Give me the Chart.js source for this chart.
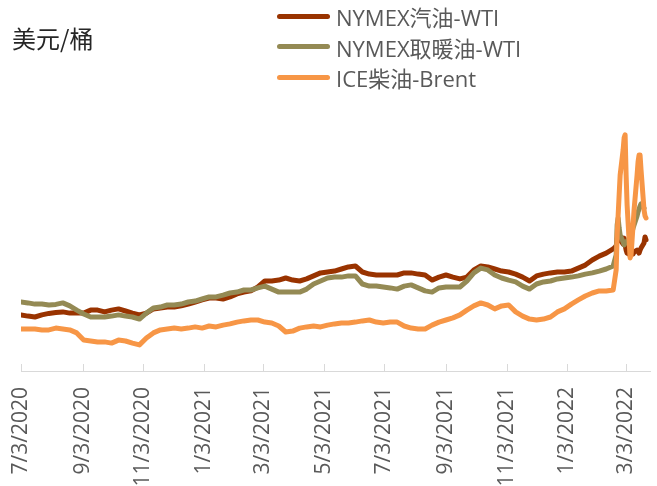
<!DOCTYPE html>
<html>
<head>
<meta charset="utf-8">
<script src="https://cdn.jsdelivr.net/npm/chart.js@4/dist/chart.umd.min.js"></script>
<style>
html,body{margin:0;padding:0;background:#fff;}
#wrap{position:relative;width:657px;height:486px;overflow:hidden;background:#fff;}
#c{position:absolute;left:0;top:0;}
#unit{position:absolute;left:12px;top:24px;font-family:"Noto Sans CJK SC",sans-serif;font-size:24px;line-height:28px;color:#262626;}
#legend{position:absolute;left:277px;top:1px;}
.item{display:flex;align-items:center;height:30.5px;font-family:"Open Sans","Noto Sans CJK SC",sans-serif;font-size:22px;color:#595959;white-space:nowrap;}
.sw{width:53px;height:5px;border-radius:3px;margin-right:6px;flex:none;}
</style>
</head>
<body>
<div id="wrap">
  <canvas id="c" width="657" height="486"></canvas>
  <div id="unit">美元/桶</div>
  <div id="legend"></div>
</div>
<script>
// ---- data (crack spreads, USD/bbl) ----
const dates = [
 '2020-07-03','2020-07-10','2020-07-17','2020-07-24','2020-07-31','2020-08-07','2020-08-14','2020-08-21','2020-08-28',
 '2020-09-04','2020-09-11','2020-09-18','2020-09-25','2020-10-02','2020-10-09','2020-10-16','2020-10-23','2020-10-30',
 '2020-11-06','2020-11-13','2020-11-20','2020-11-27','2020-12-04','2020-12-11','2020-12-18','2020-12-25',
 '2021-01-01','2021-01-08','2021-01-15','2021-01-22','2021-01-29','2021-02-05','2021-02-12','2021-02-19','2021-02-26',
 '2021-03-05','2021-03-12','2021-03-19','2021-03-26','2021-04-02','2021-04-09','2021-04-16','2021-04-23','2021-04-30',
 '2021-05-07','2021-05-14','2021-05-21','2021-05-28','2021-06-04','2021-06-11','2021-06-18','2021-06-25',
 '2021-07-02','2021-07-09','2021-07-16','2021-07-23','2021-07-30','2021-08-06','2021-08-13','2021-08-20','2021-08-27',
 '2021-09-03','2021-09-10','2021-09-17','2021-09-24','2021-10-01','2021-10-08','2021-10-15','2021-10-22','2021-10-29',
 '2021-11-05','2021-11-12','2021-11-19','2021-11-26','2021-12-03','2021-12-10','2021-12-17','2021-12-24','2021-12-31',
 '2022-01-07','2022-01-14','2022-01-21','2022-01-28','2022-02-04','2022-02-11','2022-02-18',
 '2022-02-21','2022-02-22','2022-02-23','2022-02-24','2022-02-25','2022-02-28','2022-03-01','2022-03-02','2022-03-03',
 '2022-03-04','2022-03-07','2022-03-08','2022-03-09','2022-03-10','2022-03-11','2022-03-14','2022-03-15','2022-03-16',
 '2022-03-17','2022-03-18','2022-03-21','2022-03-22','2022-03-23'
];
const gasolineWTI = [
 9.7,9.3,9.0,9.7,10.2,10.5,10.7,10.3,10.3,
 10.3,11.3,11.3,10.7,11.3,11.7,11.0,10.3,9.7,
 10.3,11.7,12.0,12.3,12.3,12.7,13.3,14.0,
 14.7,15.3,15.3,15.0,15.7,16.7,17.3,17.7,19.0,
 21.0,21.0,21.3,22.0,21.3,21.0,21.7,22.7,23.7,
 24.0,24.3,25.0,25.7,26.0,24.0,23.3,23.0,
 23.0,23.0,23.0,23.7,23.7,23.3,23.0,21.3,22.3,
 23.0,22.3,21.7,22.3,24.7,26.0,25.7,25.0,24.3,
 24.0,23.3,22.3,21.0,22.7,23.3,23.7,24.0,24.0,
 24.3,25.3,26.3,28.0,29.3,30.3,31.7,
 32.7,34.7,37.3,36.0,34.7,33.3,35.3,33.0,31.3,
 30.3,29.7,31.3,30.7,30.0,30.7,31.3,31.0,30.3,
 31.3,32.0,33.7,35.7,34.7
];
const heatingOilWTI = [
 14.0,13.7,13.3,13.3,13.0,13.2,13.7,12.7,11.3,
 10.0,9.0,9.0,9.0,9.3,9.7,9.3,9.0,8.3,
 10.3,12.0,12.3,13.0,13.0,13.3,14.0,14.3,
 15.0,15.7,15.7,16.3,17.0,17.3,18.0,18.0,18.7,
 19.3,18.3,17.3,17.3,17.3,17.3,18.3,20.0,21.0,
 22.0,22.3,22.3,22.7,22.7,20.0,19.3,19.3,
 19.0,18.7,18.3,19.3,19.7,18.7,17.7,17.3,18.7,
 19.0,19.0,19.0,21.0,23.7,25.3,24.7,23.0,22.0,
 21.3,20.7,19.3,18.3,20.0,20.7,21.0,21.7,22.0,
 22.3,22.7,23.3,23.7,24.3,25.0,26.0,
 29.7,39.7,42.0,38.7,36.3,34.0,33.0,33.7,34.0,
 34.3,35.3,36.0,37.3,38.7,39.7,42.7,44.0,45.0,
 46.0,46.7,45.3,null,null
];
const gasoilBrent = [
 5.0,5.0,5.0,4.7,4.7,5.3,5.0,4.7,3.7,
 1.3,1.0,0.7,0.7,0.3,1.3,1.0,0.3,-0.3,
 2.0,3.7,4.7,5.0,5.3,5.0,5.3,5.7,
 5.3,6.0,5.7,6.3,6.7,7.3,7.7,8.0,8.0,
 7.3,7.0,6.0,4.0,4.3,5.3,5.7,6.0,5.7,
 6.3,6.7,7.0,7.0,7.3,7.7,8.0,7.3,
 7.0,7.3,7.3,6.0,5.3,5.0,5.0,6.3,7.3,
 8.0,8.7,9.7,11.3,12.7,13.7,13.0,11.7,12.7,
 13.0,10.7,9.3,8.3,8.0,8.3,9.0,10.7,11.7,
 13.3,14.7,16.0,17.0,17.7,17.7,18.0,
 24.7,36.3,43.0,49.7,56.3,64.7,68.7,69.7,56.3,
 46.3,28.7,29.7,34.7,39.7,44.7,56.3,60.7,63.0,
 63.0,58.0,44.7,42.7,42.0
];
const seriesNames = ['NYMEX汽油-WTI','NYMEX取暖油-WTI','ICE柴油-Brent'];
const seriesColors = ['#993300','#948a54','#f79646'];
const tickDates = ['2020-07-03','2020-09-03','2020-11-03','2021-01-03','2021-03-03','2021-05-03','2021-07-03','2021-09-03','2021-11-03','2022-01-03','2022-03-03'];
const tickLabels = ['7/3/2020','9/3/2020','11/3/2020','1/3/2021','3/3/2021','5/3/2021','7/3/2021','9/3/2021','11/3/2021','1/3/2022','3/3/2022'];

// ---- helpers ----
const t0 = Date.parse(dates[0] + 'T00:00:00Z');
const dayOf = d => Math.round((Date.parse(d + 'T00:00:00Z') - t0) / 86400000);
const toPoints = arr => dates.map((d, i) => ({x: dayOf(d), y: arr[i]}));

// HTML legend built from the series definitions
const leg = document.getElementById('legend');
seriesNames.forEach((n, i) => {
  const row = document.createElement('div'); row.className = 'item';
  const sw = document.createElement('span'); sw.className = 'sw'; sw.style.background = seriesColors[i];
  const tx = document.createElement('span'); tx.textContent = n;
  row.appendChild(sw); row.appendChild(tx); leg.appendChild(row);
});

const innerTicks = {
  id: 'innerTicks',
  beforeDatasetsDraw(chart) {
    const s = chart.scales.x, ctx = chart.ctx;
    ctx.save();
    ctx.strokeStyle = '#d9d9d9'; ctx.lineWidth = 1;
    s.ticks.forEach(t => {
      const x = Math.round(s.getPixelForValue(t.value)) + 0.5;
      ctx.beginPath(); ctx.moveTo(x, s.top); ctx.lineTo(x, s.top - 7); ctx.stroke();
    });
    ctx.restore();
  }
};

const seriesData = [gasolineWTI, heatingOilWTI, gasoilBrent];
const orders = [2, 1, 0];

new Chart(document.getElementById('c').getContext('2d'), {
  type: 'line',
  data: {
    datasets: seriesData.map((arr, i) => ({
      label: seriesNames[i],
      data: toPoints(arr),
      borderColor: seriesColors[i],
      backgroundColor: seriesColors[i],
      borderWidth: 5,
      pointRadius: 0,
      tension: 0,
      borderCapStyle: 'round',
      borderJoinStyle: 'round',
      order: orders[i]
    }))
  },
  options: {
    responsive: false,
    animation: false,
    devicePixelRatio: 1,
    layout: {padding: {left: 21, right: 7, top: 101, bottom: 0}},
    plugins: {legend: {display: false}, tooltip: {enabled: false}},
    scales: {
      x: {
        type: 'linear',
        min: 0,
        max: 632,
        afterBuildTicks: s => { s.ticks = tickDates.map(d => ({value: dayOf(d)})); },
        afterFit: s => { s.height = 115; s.paddingLeft = 0; s.paddingRight = 0; },
        ticks: {
          autoSkip: false,
          minRotation: 90,
          maxRotation: 90,
          padding: 16,
          color: '#595959',
          font: {family: 'Open Sans', size: 21},
          callback: (v, i) => tickLabels[i]
        },
        grid: {display: false, drawTicks: false},
        border: {display: true, color: '#d9d9d9', width: 1}
      },
      y: {display: false, min: -9, max: 81}
    }
  },
  plugins: [innerTicks]
});
</script>
</body>
</html>
